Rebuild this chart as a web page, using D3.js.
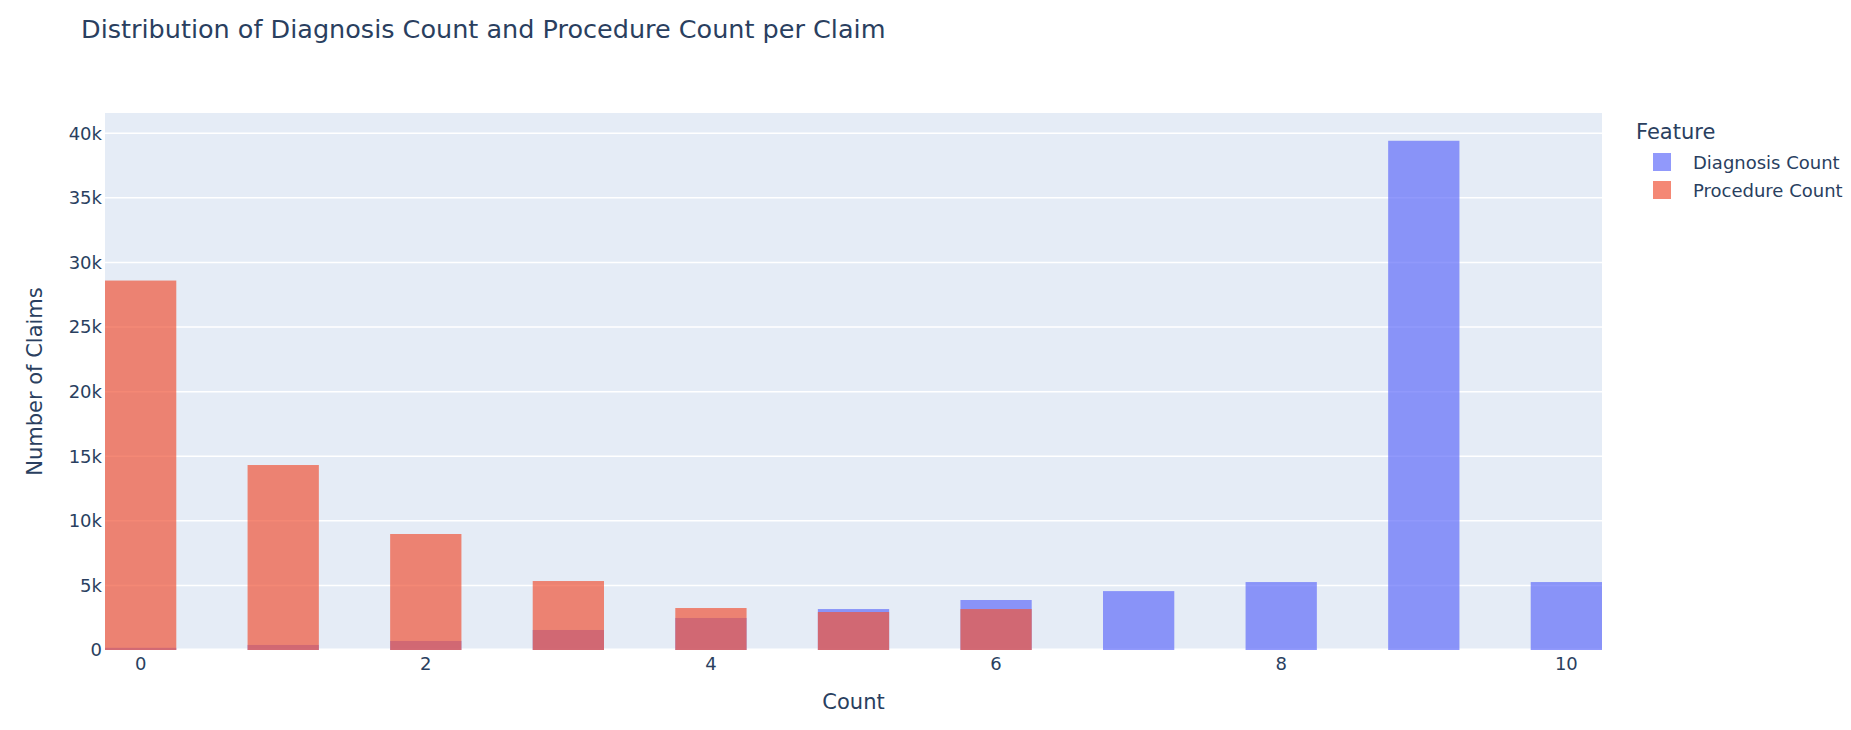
<!DOCTYPE html>
<html>
<head>
<meta charset="utf-8">
<script src="https://cdn.jsdelivr.net/npm/d3@7"></script>
<style>
  body { margin: 0; background: #fff; }
  text { font-family: "DejaVu Sans", verdana, arial, sans-serif; fill: #2a3f5f; }
</style>
</head>
<body>
<div id="chart"></div>
<script>
// chart values
const counts = [0, 1, 2, 3, 4, 5, 6, 7, 8, 9, 10];
const diagnosisClaims = [170, 390, 700, 1550, 2480, 3170, 3870, 4560, 5260, 39420, 5260];
const procedureClaims = [28600, 14320, 8980, 5340, 3250, 2940, 3170, 0, 0, 0, 0];
const yTicks = [0, 5000, 10000, 15000, 20000, 25000, 30000, 35000, 40000];
const xTicks = [0, 2, 4, 6, 8, 10];
const seriesNames = ["Diagnosis Count", "Procedure Count"];
const seriesColors = ["#636efa", "#EF553B"];

const width = 1851;
const height = 730;
const plot = { left: 105, right: 1602, top: 113, bottom: 650 };
const barOpacity = 0.7;

var svg = d3.select("#chart")
  .append("svg")
  .attr("width", width)
  .attr("height", height);

svg.append("rect")
  .attr("width", width)
  .attr("height", height)
  .attr("fill", "white");

// scales
var x = d3.scaleLinear().domain([-0.25, 10.25]).range([plot.left, plot.right]);
var y = d3.scaleLinear().domain([0, 41570]).range([plot.bottom, plot.top]);

// plot background
svg.append("rect")
  .attr("x", plot.left)
  .attr("y", plot.top)
  .attr("width", plot.right - plot.left)
  .attr("height", plot.bottom - plot.top)
  .attr("fill", "#E5ECF6");

// horizontal grid
svg.append("g")
  .selectAll("line")
  .data(yTicks.filter(function(t) { return t > 0; }))
  .enter()
  .append("line")
  .attr("x1", plot.left)
  .attr("x2", plot.right)
  .attr("y1", function(t) { return y(t); })
  .attr("y2", function(t) { return y(t); })
  .attr("stroke", "white")
  .attr("stroke-width", 1.5);

// zero line
svg.append("line")
  .attr("x1", plot.left)
  .attr("x2", plot.right)
  .attr("y1", y(0))
  .attr("y2", y(0))
  .attr("stroke", "white")
  .attr("stroke-width", 3);

// bars, overlaid: diagnosis first, procedure on top
var barWidth = x(0.5) - x(0);
[diagnosisClaims, procedureClaims].forEach(function(values, s) {
  svg.append("g")
    .selectAll("rect")
    .data(counts)
    .enter()
    .append("rect")
    .attr("x", function(c) { return x(c) - barWidth / 2; })
    .attr("y", function(c, i) { return y(values[i]); })
    .attr("width", barWidth)
    .attr("height", function(c, i) { return y(0) - y(values[i]); })
    .attr("fill", seriesColors[s])
    .attr("fill-opacity", barOpacity);
});

// y tick labels
svg.append("g")
  .selectAll("text")
  .data(yTicks)
  .enter()
  .append("text")
  .attr("x", plot.left - 3)
  .attr("y", function(t) { return y(t); })
  .attr("dy", "0.35em")
  .attr("text-anchor", "end")
  .style("font-size", "18px")
  .text(function(t) { return t === 0 ? "0" : (t / 1000) + "k"; });

// x tick labels
svg.append("g")
  .selectAll("text")
  .data(xTicks)
  .enter()
  .append("text")
  .attr("x", function(t) { return x(t); })
  .attr("y", 670)
  .attr("text-anchor", "middle")
  .style("font-size", "18px")
  .text(function(t) { return t; });

// title
svg.append("text")
  .attr("x", 81)
  .attr("y", 38)
  .style("font-size", "25.5px")
  .text("Distribution of Diagnosis Count and Procedure Count per Claim");

// axis titles
svg.append("text")
  .attr("x", (plot.left + plot.right) / 2)
  .attr("y", 709)
  .attr("text-anchor", "middle")
  .style("font-size", "21px")
  .text("Count");

svg.append("text")
  .attr("transform", "translate(42," + ((plot.top + plot.bottom) / 2) + ") rotate(-90)")
  .attr("text-anchor", "middle")
  .style("font-size", "21px")
  .text("Number of Claims");

// legend
var legend = svg.append("g").attr("transform", "translate(1636,139)");
legend.append("text")
  .attr("x", 0)
  .attr("y", 0)
  .style("font-size", "21px")
  .text("Feature");

var items = legend.selectAll("g.item")
  .data(seriesNames)
  .enter()
  .append("g")
  .attr("class", "item")
  .attr("transform", function(d, i) { return "translate(0," + (30 + i * 28) + ")"; });

items.append("rect")
  .attr("x", 17)
  .attr("y", -16)
  .attr("width", 18)
  .attr("height", 18)
  .attr("fill", function(d, i) { return seriesColors[i]; })
  .attr("fill-opacity", barOpacity);

items.append("text")
  .attr("x", 57)
  .attr("y", 0)
  .style("font-size", "18px")
  .text(function(d) { return d; });
</script>
</body>
</html>
